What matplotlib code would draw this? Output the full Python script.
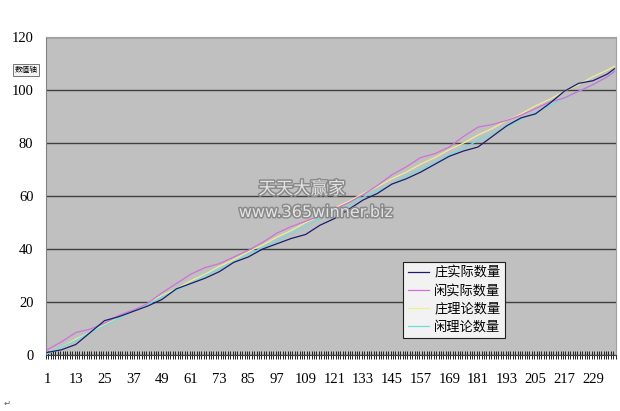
import matplotlib
matplotlib.use('Agg')
from matplotlib import pyplot as plt
from matplotlib.ticker import MultipleLocator, FixedLocator
import matplotlib.patheffects as pe

plt.rcParams['font.family'] = ['Noto Sans CJK SC', 'DejaVu Sans']

# 局号(每6局读一次数)
hands = [1, 7, 13, 19, 25, 31, 37, 43, 49, 55, 61, 67, 73, 79, 85, 91, 97, 103,
         109, 115, 121, 127, 133, 139, 145, 151, 157, 163, 169, 175, 181, 187,
         193, 199, 205, 211, 217, 223, 229, 235, 238]

banker_actual = [1, 2, 4, 8.5, 13, 14.5, 16.5, 18.5, 21, 25, 27, 29, 31.5, 35, 37,
                 40, 42, 44, 45.5, 49, 51.5, 55, 58.5, 61, 64.5, 66.5, 69, 72, 75,
                 77, 78.5, 82.5, 86.5, 89.5, 91, 95, 99.5, 102.5, 103.5, 106, 108]
player_actual = [2, 5, 8.5, 9.8, 12, 15, 17, 19.5, 23.5, 27, 30.5, 33, 34.5, 37,
                 39.5, 42.5, 46, 48.5, 50.5, 52.5, 55, 57.5, 60.5, 64, 68, 71, 74.5,
                 76, 78.5, 82.5, 86, 87, 88.5, 90.5, 93, 95.5, 97, 99.5, 102, 105, 107]
banker_theory = [0.5, 3, 6, 8.5, 11.5, 14, 17, 19.5, 22.5, 25, 28, 30.5, 33.5, 36,
                 39, 41.5, 44.5, 47, 50, 52.5, 55.5, 58, 61, 63.5, 66.5, 69, 72,
                 74.5, 77.5, 80, 83, 85.5, 88.5, 91, 94, 96.5, 99.5, 102, 105, 107.5, 109]
player_theory = [0.5, 3, 5.5, 8.5, 11, 14, 16.5, 19, 22, 24.5, 27, 30, 32.5, 35,
                 38, 40.5, 43, 46, 48.5, 51.5, 54, 56.5, 59.5, 62, 64.5, 67.5, 70,
                 72.5, 75.5, 78, 81, 83.5, 86, 89, 91.5, 94, 97, 99.5, 102, 105, 106.5]

n_hands = 238
xlabels = list(range(1, 230, 12))

fig = plt.figure(figsize=(6.2, 4.11), dpi=100)
ax = fig.add_axes([0.074, 0.136, 0.919, 0.774])
ax.set_facecolor('#c0c0c0')

ax.plot(hands, banker_actual, color='#1c1c70', lw=0.9, label='庄实际数量', zorder=4)
ax.plot(hands, player_actual, color='#d070d8', lw=0.9, label='闲实际数量', zorder=3)
ax.plot(hands, banker_theory, color='#f0ee90', lw=0.9, label='庄理论数量', zorder=2)
ax.plot(hands, player_theory, color='#70dcdc', lw=0.9, label='闲理论数量', zorder=2)

ax.set_xlim(0.5, n_hands + 0.5)
ax.set_ylim(0, 120)
ax.yaxis.set_major_locator(MultipleLocator(20))
ax.grid(axis='y', color='#404040', lw=1.0)
ax.set_axisbelow(True)

ax.xaxis.set_major_locator(FixedLocator(xlabels))
ax.xaxis.set_minor_locator(FixedLocator([i + 0.5 for i in range(n_hands + 1)]))
ax.tick_params(axis='x', which='major', length=0, pad=13)
ax.tick_params(axis='x', which='minor', length=6, width=0.7, color='#202020', direction='inout')
ax.tick_params(axis='y', length=0, pad=9)
for lab in ax.get_xticklabels() + ax.get_yticklabels():
    lab.set_fontfamily('Liberation Serif')
    lab.set_fontsize(10.5)

for s in ['top', 'right']:
    ax.spines[s].set_color('#a0a0a0')
ax.spines['left'].set_color('#808080')
ax.spines['bottom'].set_color('#404040')

leg = ax.legend(loc='lower left', bbox_to_anchor=(0.627, 0.053), fontsize=9.5,
                frameon=True, fancybox=False, handlelength=1.6, handletextpad=0.4,
                borderpad=0.35, labelspacing=0.38, borderaxespad=0)
leg.get_frame().set_facecolor('#f2f2f2')
leg.get_frame().set_edgecolor('#202020')
leg.get_frame().set_linewidth(0.8)
leg.get_frame().set_alpha(1)

fig.text(0.042, 0.83, '数值轴', fontsize=5.5, ha='center', va='center',
         bbox=dict(boxstyle='square,pad=0.25', fc='#f4f4f4', ec='#606060', lw=0.6))

wm = [pe.withStroke(linewidth=2.2, foreground='#8a8a8a')]
fig.text(0.487, 0.54, '天天大赢家', fontsize=12.5, ha='center', va='center',
         color='#e4e4e4', path_effects=wm)
fig.text(0.51, 0.483, 'www.365winner.biz', fontsize=11.5, ha='center', va='center',
         color='#e4e4e4', path_effects=wm, family='DejaVu Sans')

fig.text(0.006, 0.012, '↵', fontsize=6, color='#606060', family='DejaVu Sans')

plt.savefig('out.png', dpi=100)
